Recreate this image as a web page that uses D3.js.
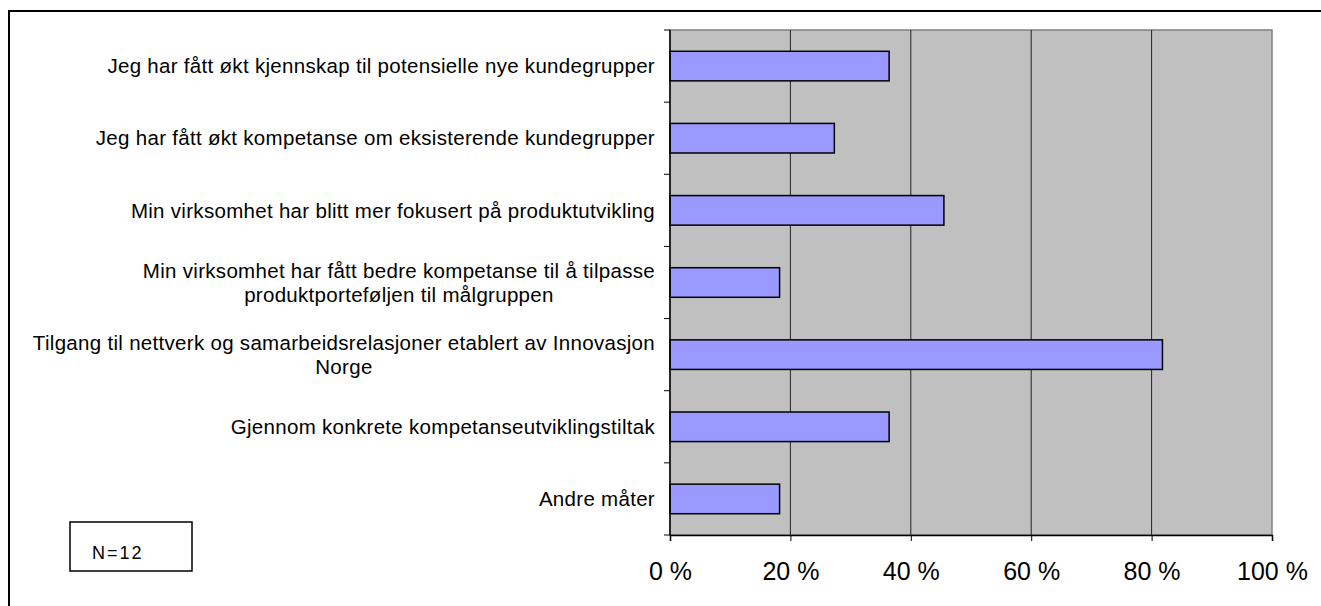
<!DOCTYPE html>
<html>
<head>
<meta charset="utf-8">
<script src="https://cdn.jsdelivr.net/npm/d3@7"></script>
<style>
  body { margin: 0; background: #fff; }
  svg { display: block; font-family: "Liberation Sans", Arial, sans-serif; }
</style>
</head>
<body>
<svg id="chart" width="1321" height="606"></svg>
<script>
// categories (line breaks as in the picture)
const categories = [
  "Jeg har fått økt kjennskap til potensielle nye kundegrupper",
  "Jeg har fått økt kompetanse om eksisterende kundegrupper",
  "Min virksomhet har blitt mer fokusert på produktutvikling",
  "Min virksomhet har fått bedre kompetanse til å tilpasse\nproduktporteføljen til målgruppen",
  "Tilgang til nettverk og samarbeidsrelasjoner etablert av Innovasjon\nNorge",
  "Gjennom konkrete kompetanseutviklingstiltak",
  "Andre måter"
];
const values = [36.4, 27.3, 45.5, 18.2, 81.8, 36.4, 18.2];
const xTicks = [0, 20, 40, 60, 80, 100];
const noteText = "N=12";

const svg = d3.select('#chart');
const plot = {l:670, r:1272, t:30, b:535};

// outer frame
svg.append('rect')
  .attr('x', 9).attr('y', 11).attr('width', 1330).attr('height', 700)
  .attr('fill', '#fff').attr('stroke', '#000').attr('stroke-width', 2);

const x = d3.scaleLinear().domain([0,100]).range([plot.l, plot.r]);
const y = d3.scaleBand().domain(categories).range([plot.t, plot.b])
  .paddingInner(0.59).paddingOuter(0.295);

// plot background
svg.append('rect')
  .attr('x', plot.l).attr('y', plot.t)
  .attr('width', plot.r - plot.l).attr('height', plot.b - plot.t)
  .attr('fill', '#c0c0c0').attr('stroke', '#808080').attr('stroke-width', 1.5);

// vertical gridlines
svg.append('g').selectAll('line')
  .data(xTicks.filter(d => d > 0 && d < 100)).enter().append('line')
  .attr('x1', d => x(d)).attr('x2', d => x(d))
  .attr('y1', plot.t).attr('y2', plot.b)
  .attr('stroke', '#222').attr('stroke-width', 1);

// bars
svg.append('g').selectAll('rect')
  .data(categories).enter().append('rect')
  .attr('x', x(0))
  .attr('y', d => y(d))
  .attr('width', (d,i) => x(values[i]) - x(0))
  .attr('height', y.bandwidth())
  .attr('fill', '#9999ff').attr('stroke', '#000').attr('stroke-width', 1.5);

// left axis: line + ticks between categories
const yEdges = d3.range(categories.length + 1).map(i => plot.t + i * y.step());
const gy = svg.append('g');
gy.append('line')
  .attr('x1', plot.l).attr('x2', plot.l).attr('y1', plot.t).attr('y2', plot.b)
  .attr('stroke', '#000').attr('stroke-width', 1.5);
gy.selectAll('line.tick').data(yEdges).enter().append('line')
  .attr('class', 'tick')
  .attr('x1', plot.l - 6).attr('x2', plot.l).attr('y1', d => d).attr('y2', d => d)
  .attr('stroke', '#000');

// bottom axis
const gx = svg.append('g')
  .attr('transform', `translate(0,${plot.b})`)
  .call(d3.axisBottom(x).tickValues(xTicks).tickSize(6).tickPadding(21)
    .tickFormat(d => d + ' %'));
gx.select('.domain').attr('stroke', '#000').attr('stroke-width', 1.5);
gx.selectAll('text').style('font-size', '25px')
  .style('font-family', '"Liberation Sans", Arial, sans-serif').attr('fill', '#000');

// category labels, lines centred on each other, block right aligned
const labelRight = plot.l - 15;
const lineH = 24;
categories.forEach(cat => {
  const lines = cat.split('\n');
  const cy = y(cat) + y.bandwidth() / 2;
  const g = svg.append('g');
  const texts = lines.map((ln, i) => g.append('text')
    .attr('y', cy + (i - (lines.length - 1) / 2) * lineH)
    .attr('dy', '0.35em')
    .style('font-size', '20.5px')
    .style('letter-spacing', '0.3px')
    .attr('text-anchor', 'middle')
    .text(ln));
  const maxW = d3.max(texts, t => t.node().getComputedTextLength());
  texts.forEach(t => t.attr('x', labelRight - maxW / 2));
});

// N box
svg.append('rect')
  .attr('x', 70).attr('y', 522).attr('width', 122).attr('height', 49)
  .attr('fill', '#fff').attr('stroke', '#000').attr('stroke-width', 1.5);
svg.append('text')
  .attr('x', 92).attr('y', 559)
  .style('font-size', '18px')
  .style('letter-spacing', '2px')
  .text(noteText);
</script>
</body>
</html>
